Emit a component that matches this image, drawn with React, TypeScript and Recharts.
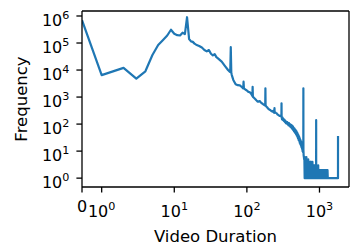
import React from 'react';
import { LineChart, Line, XAxis, YAxis } from 'recharts';

// video duration (seconds) and how many videos have it
const durations = [
  0, 1, 2, 3, 4, 5, 6, 7, 8, 9, 10, 11, 12, 13, 14, 15, 16, 17, 18, 19, 20, 22, 24, 26, 28, 30,
  32, 34, 36, 38, 40, 45, 50, 55, 58, 59, 60, 61, 62, 65, 70, 75, 80, 85, 89, 90, 91, 95, 100,
  105, 110, 115, 119, 120, 121, 125, 130, 135, 140, 143, 147, 150, 155, 160, 165, 170, 175, 179,
  180, 181, 185, 190, 195, 200, 205, 210, 215, 220, 225, 230, 235, 239, 240, 241, 245, 250, 257,
  265, 270, 275, 280, 285, 290, 295, 299, 300, 301, 305, 310, 315, 320, 325, 330, 335, 340, 345,
  350, 355, 360, 365, 370, 375, 380, 385, 390, 395, 400, 405, 410, 415, 420, 425, 430, 435, 440,
  445, 450, 455, 460, 465, 470, 475, 480, 485, 490, 495, 500, 505, 510, 515, 520, 525, 530, 535,
  540, 545, 550, 555, 560, 565, 570, 575, 580, 585, 590, 595, 599, 600, 601, 605, 610, 615, 620,
  625, 630, 635, 640, 645, 650, 655, 660, 665, 670, 675, 680, 685, 690, 695, 700, 705, 710, 715,
  720, 725, 730, 735, 740, 745, 750, 755, 760, 765, 770, 775, 780, 785, 790, 795, 800, 805, 810,
  815, 820, 825, 830, 835, 840, 845, 850, 855, 860, 865, 870, 875, 880, 885, 890, 895, 899, 900,
  901, 905, 910, 920, 925, 930, 940, 950, 955, 960, 965, 970, 980, 990, 1000, 1010, 1020, 1030,
  1040, 1050, 1060, 1070, 1080, 1090, 1100, 1110, 1120, 1130, 1140, 1150, 1160, 1170, 1180, 1190,
  1200, 1210, 1220, 1230, 1240, 1250, 1260, 1270, 1280, 1290, 1300, 1799, 1800,
];

const frequencies = [
  700000, 6500, 12000, 4800, 9000, 36000, 85000, 130000, 190000, 310000, 220000, 195000, 190000,
  240000, 215000, 900000, 140000, 115000, 110000, 95000, 87000, 78000, 68000, 55000, 49000, 55000,
  40000, 35000, 39000, 30000, 27000, 20500, 14000, 10000, 8700, 8500, 70000, 8000, 6500, 4300,
  3000, 2750, 2700, 2350, 2100, 3700, 2100, 1900, 1750, 1550, 1500, 1300, 1100, 2400, 1020, 950,
  850, 760, 690, 670, 700, 710, 640, 600, 560, 530, 500, 480, 2100, 500, 450, 420, 380, 360, 340,
  330, 310, 300, 290, 310, 270, 260, 390, 275, 275, 260, 250, 225, 220, 210, 205, 200, 200, 195,
  190, 590, 185, 150, 175, 140, 155, 130, 145, 118, 130, 108, 122, 105, 118, 98, 110, 90, 108, 88,
  100, 80, 96, 78, 92, 70, 88, 66, 82, 60, 74, 55, 70, 50, 64, 46, 60, 42, 55, 38, 50, 34, 45, 30,
  40, 26, 36, 24, 32, 20, 28, 18, 25, 16, 22, 14, 20, 12, 17, 10, 15, 9, 12, 2100, 11, 7, 6, 5, 5,
  1, 6, 1, 4, 1, 5, 2, 6, 1, 4, 1, 5, 2, 4, 1, 5, 1, 3, 1, 4, 1, 3, 2, 4, 1, 4, 1, 3, 1, 4, 1, 3,
  1, 3, 1, 4, 1, 3, 1, 3, 1, 2, 1, 3, 1, 3, 1, 2, 1, 3, 1, 2, 1, 2, 1, 2, 140, 1, 2, 1, 3, 1, 2, 1,
  2, 1, 3, 1, 2, 1, 2, 1, 2, 1, 2, 1, 2, 1, 2, 1, 2, 1, 2, 1, 2, 1, 2, 1, 2, 1, 2, 1, 2, 1, 2, 1,
  2, 1, 2, 1, 2, 1, 1, 36,
];

const xTickValues = [0, 1, 10, 100, 1000];
const xTickLabels = ['0', '10^0', '10^1', '10^2', '10^3'];
const yTickValues = [1, 10, 100, 1000, 10000, 100000, 1000000];
const yTickLabels = ['10^0', '10^1', '10^2', '10^3', '10^4', '10^5', '10^6'];

// symlog-like x axis: linear between 0 and 1, log above
const LIN = 0.271;
const toAxis = (d: number) => (d < 1 ? d * LIN : LIN + Math.log10(d));
const X_MAX = 2550;
const Y_MIN = 0.47;
const Y_MAX = 1530000;

const rows = durations.map((d, i) => ({ t: toAxis(d), count: frequencies[i] }));

const FONT = 'DejaVu Sans';

function PowerLabel({ label, x, y, anchor }: { label: string; x: number; y: number; anchor: string }) {
  if (!label.includes('^')) {
    return (
      <text x={x} y={y} textAnchor={anchor} fontFamily={FONT} fontSize={16} fill="#000">
        {label}
      </text>
    );
  }
  const [base, exp] = label.split('^');
  return (
    <text x={x} y={y} textAnchor={anchor} fontFamily={FONT} fontSize={16} fill="#000">
      {base}
      <tspan dy={-7} fontSize={11.2}>{exp}</tspan>
    </text>
  );
}

function XTick(props: any) {
  const label = xTickLabels[props.index];
  const plain = !label.includes('^');
  return <PowerLabel label={label} x={props.x} y={props.y + (plain ? 19 : 24)} anchor="middle" />;
}

function YTick(props: any) {
  const label = yTickLabels[props.index];
  return <PowerLabel label={label} x={props.x - 7} y={props.y + 10.2} anchor="end" />;
}

const lineStyle = { stroke: '#000', strokeWidth: 1.3 };

export default function App() {
  return (
    <div style={{ position: 'absolute', left: 0, top: 0, background: '#fff' }}>
      <LineChart width={351} height={247} data={rows} margin={{ top: 10, right: 1, bottom: 0, left: 0 }}>
        <XAxis
          dataKey="t"
          type="number"
          domain={[0, toAxis(X_MAX)]}
          allowDataOverflow
          ticks={xTickValues.map(toAxis)}
          interval={0}
          tick={<XTick />}
          tickSize={5.6}
          tickMargin={0}
          tickLine={lineStyle}
          axisLine={lineStyle}
          height={60}
          label={{
            content: (p: any) => (
              <text
                x={p.viewBox.x + p.viewBox.width / 2}
                y={241.5}
                textAnchor="middle"
                fontFamily={FONT}
                fontSize={16.5}
                fill="#000"
              >
                Video Duration
              </text>
            ),
          }}
        />
        <XAxis xAxisId="top" orientation="top" dataKey="t" type="number" domain={[0, toAxis(X_MAX)]}
          allowDataOverflow height={1} tick={false} tickLine={false} axisLine={lineStyle} />
        <YAxis
          type="number"
          scale="log"
          domain={[Y_MIN, Y_MAX]}
          allowDataOverflow
          ticks={yTickValues}
          interval={0}
          tick={<YTick />}
          tickSize={5.6}
          tickMargin={0}
          tickLine={lineStyle}
          axisLine={lineStyle}
          width={82}
          label={{
            content: (p: any) => {
              const cy = p.viewBox.y + p.viewBox.height / 2;
              return (
                <text
                  x={27}
                  y={cy}
                  transform={`rotate(-90, 27, ${cy})`}
                  textAnchor="middle"
                  fontFamily={FONT}
                  fontSize={16.5}
                  fill="#000"
                >
                  Frequency
                </text>
              );
            },
          }}
        />
        <YAxis yAxisId="right" orientation="right" type="number" scale="log" domain={[Y_MIN, Y_MAX]}
          allowDataOverflow width={1} tick={false} tickLine={false} axisLine={lineStyle} />
        <Line
          dataKey="count"
          type="linear"
          stroke="#1f77b4"
          strokeWidth={2.2}
          strokeLinejoin="round"
          dot={false}
          isAnimationActive={false}
        />
      </LineChart>
    </div>
  );
}
